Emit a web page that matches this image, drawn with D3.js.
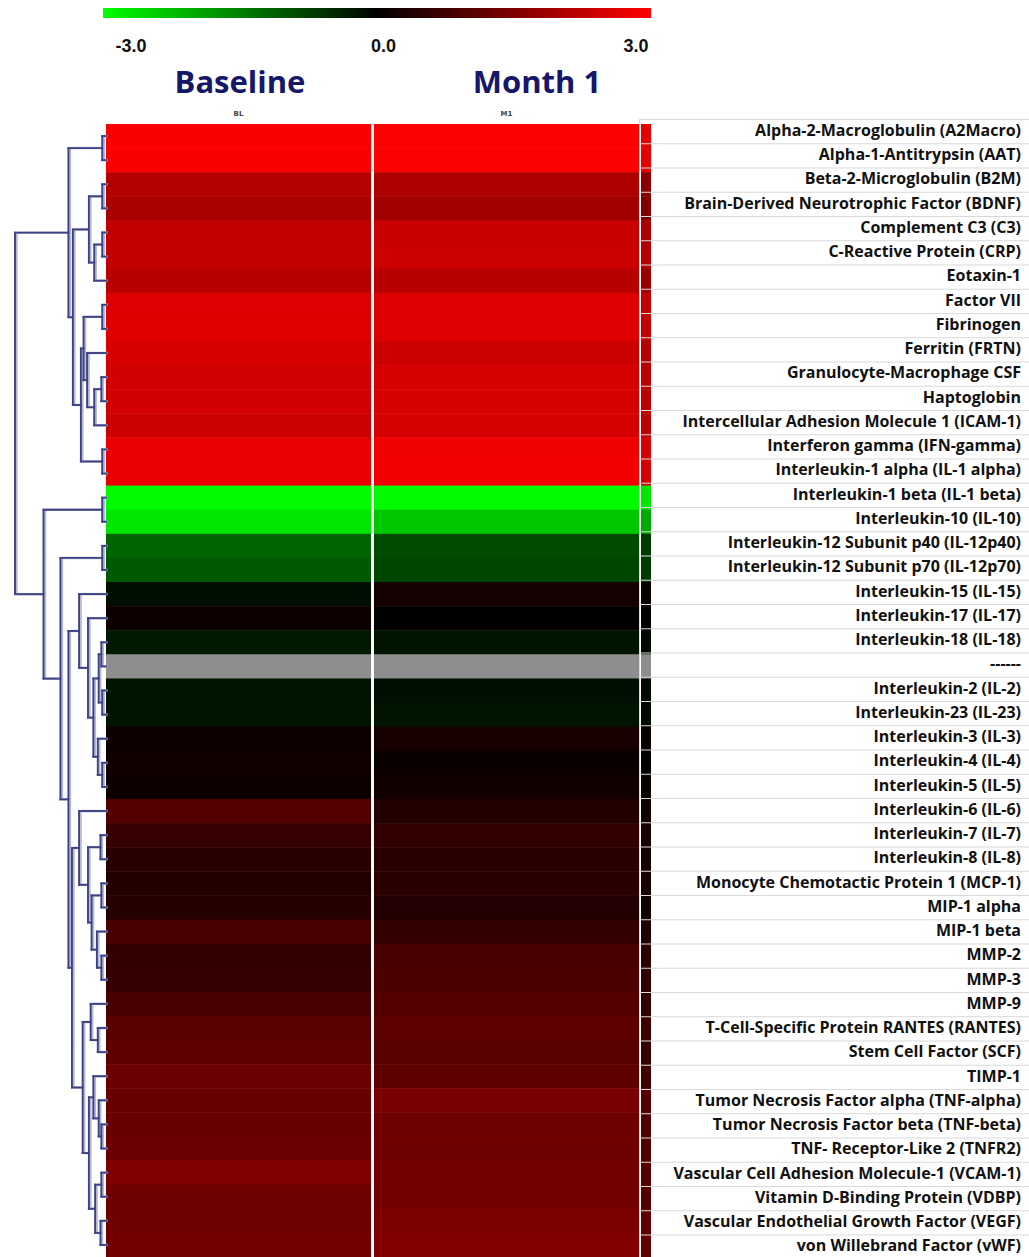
<!DOCTYPE html>
<html lang="en">
<head>
    <meta charset="UTF-8">
    <script src="https://d3js.org/d3.v7.min.js"></script>
    <title>Cytokine heatmap</title>
    <style>
        body { margin: 0; background: #fff; }
        svg { display: block; }
        .lbl { font-family: "Open Sans", Arial, sans-serif; font-weight: 700; fill: #111; }
    </style>
</head>
<body>
<div id="container"></div>
<script>
    /*------------------- data --------------------*/
    const labels = [
        "Alpha-2-Macroglobulin (A2Macro)", "Alpha-1-Antitrypsin (AAT)", "Beta-2-Microglobulin (B2M)",
        "Brain-Derived Neurotrophic Factor (BDNF)", "Complement C3 (C3)", "C-Reactive Protein (CRP)",
        "Eotaxin-1", "Factor VII", "Fibrinogen", "Ferritin (FRTN)", "Granulocyte-Macrophage  CSF",
        "Haptoglobin", "Intercellular Adhesion Molecule 1 (ICAM-1)", "Interferon gamma (IFN-gamma)",
        "Interleukin-1 alpha (IL-1 alpha)", "Interleukin-1 beta (IL-1 beta)", "Interleukin-10 (IL-10)",
        "Interleukin-12 Subunit p40 (IL-12p40)", "Interleukin-12 Subunit p70 (IL-12p70)",
        "Interleukin-15 (IL-15)", "Interleukin-17 (IL-17)", "Interleukin-18 (IL-18)", "------",
        "Interleukin-2 (IL-2)", "Interleukin-23 (IL-23)", "Interleukin-3 (IL-3)", "Interleukin-4 (IL-4)",
        "Interleukin-5 (IL-5)", "Interleukin-6 (IL-6)", "Interleukin-7 (IL-7)", "Interleukin-8 (IL-8)",
        "Monocyte Chemotactic Protein 1 (MCP-1)", "MIP-1 alpha", "MIP-1 beta", "MMP-2", "MMP-3", "MMP-9",
        "T-Cell-Specific Protein RANTES (RANTES)", "Stem Cell Factor (SCF)", "TIMP-1",
        "Tumor Necrosis Factor alpha (TNF-alpha)", "Tumor Necrosis Factor beta (TNF-beta)",
        "TNF- Receptor-Like 2 (TNFR2)", "Vascular Cell Adhesion Molecule-1 (VCAM-1)",
        "Vitamin D-Binding Protein (VDBP)", "Vascular Endothelial Growth Factor (VEGF)",
        "von Willebrand Factor (vWF)"
    ];
    const columns = ["Baseline", "Month 1"];
    const columnIds = ["BL", "M1"];

    // log-ratio values (null = no data, grey row)
    const baseline = [2.94, 2.94, 2.12, 2.00, 2.29, 2.29, 2.18, 2.59, 2.65, 2.56, 2.47, 2.47, 2.41, 2.76, 2.76,
        -2.94, -2.71, -1.18, -1.06, -0.18, 0.18, -0.29, null, -0.24, -0.24, 0.18, 0.21, 0.18, 1.00, 0.65, 0.47,
        0.41, 0.45, 0.85, 0.59, 0.61, 0.88, 1.04, 1.08, 1.27, 1.24, 1.24, 1.27, 1.51, 1.29, 1.32, 1.35];
    const month1 = [2.98, 2.98, 2.06, 1.88, 2.35, 2.41, 2.18, 2.59, 2.61, 2.41, 2.53, 2.53, 2.53, 2.82, 2.88,
        -2.94, -2.35, -0.88, -0.82, 0.24, 0.03, -0.24, null, -0.18, -0.24, 0.29, 0.12, 0.21, 0.41, 0.59, 0.49,
        0.53, 0.38, 0.59, 0.88, 0.92, 1.00, 1.08, 1.04, 1.12, 1.41, 1.32, 1.32, 1.35, 1.35, 1.47, 1.53];
    // narrow clipped column at the right edge of the heatmap
    const edgeColumn = [2.7, 2.7, 1.6, 1.5, 2.0, 2.1, 1.8, 2.3, 2.3, 2.1, 2.2, 2.2, 2.2, 2.5, 2.5,
        -2.7, -2.0, -0.7, -0.7, 0.1, 0.0, -0.1, null, -0.1, -0.1, 0.1, 0.05, 0.1, 0.2, 0.3, 0.25,
        0.3, 0.2, 0.35, 0.5, 0.55, 0.6, 0.7, 0.65, 0.75, 1.0, 0.95, 0.95, 1.0, 1.0, 1.1, 1.15];

    const legendTicks = [-3, 0, 3];

    // row dendrogram: [height, left, right], leaves are row numbers (1-based)
    const tree = [1.0,
        [0.40, [0.02, 1, 2],
            [0.35,
                [0.17, [0.02, 3, 4], [0.11, [0.02, 5, 6], 7]],
                [0.26,
                    [0.23, [0.02, 8, 9], [0.19, 10, [0.11, [0.03, 11, 12], 13]]],
                    [0.02, 14, 15]]]],
        [0.68, [0.02, 16, 17],
            [0.49, [0.02, 18, 19],
                [0.40,
                    [0.28, 20, [0.18, 21, [0.12, [0.06, [0.03, 22, 23], [0.02, 24, 25]], [0.07, 26, [0.02, 27, 28]]]]],
                    [0.36,
                        [0.28, 29, [0.18, [0.04, 30, 31], [0.14, [0.03, 32, 33], [0.08, 34, [0.03, 35, 36]]]]],
                        [0.24,
                            [0.15, 37, [0.07, 38, 39]],
                            [0.17, [0.12, 40, [0.06, 41, [0.03, 42, 43]]], [0.10, [0.03, 44, 45], [0.04, 46, 47]]]]]]]]];

    /*------------------- layout --------------------*/
    const W = 1029, H = 1257;
    const heat = { left: 106, right: 639, top: 124, bottom: 1257 };
    const strip = { left: 641, right: 651 };
    const table = { left: 640, top: 119, row: 24.25, textRight: 1021 };
    const titleX = [240, 537];

    const svg = d3.select("#container").append("svg")
        .attr("width", W)
        .attr("height", H);

    const color = d3.scaleLinear().domain([-3, 0, 3]).range(["#00ff00", "#000000", "#ff0000"]);
    const missingColor = "#8e8e8e";
    const fill = v => v === null ? missingColor : color(v);

    const xCol = d3.scaleBand().domain(columns).range([heat.left, heat.right]).paddingInner(0.011);
    const yHeat = d3.scaleBand().domain(labels).range([heat.top, heat.bottom]);
    const yLab = d3.scaleBand().domain(labels).range([table.top, table.top + labels.length * table.row]);

    /*------------------- colour legend --------------------*/
    const legendX = d3.scaleLinear().domain([-3, 3]).range([103, 651]);
    const grad = svg.append("defs").append("linearGradient").attr("id", "grad");
    grad.selectAll("stop")
        .data(d3.range(-3, 3.01, 0.5))
        .enter().append("stop")
        .attr("offset", d => (legendX(d) - 103) / 548)
        .attr("stop-color", d => color(d));
    svg.append("rect")
        .attr("x", legendX(-3)).attr("y", 8)
        .attr("width", legendX(3) - legendX(-3)).attr("height", 10)
        .attr("fill", "url(#grad)");

    const tickX = d3.scaleLinear().domain([-3, 3]).range([131, 636]);
    svg.selectAll(".tick")
        .data(legendTicks)
        .enter().append("text")
        .attr("x", d => tickX(d))
        .attr("y", 52)
        .attr("text-anchor", "middle")
        .style("font-family", "Arial, 'Liberation Sans', sans-serif")
        .style("font-weight", 700)
        .style("font-size", "18px")
        .attr("fill", "#111")
        .text(d => d.toFixed(1));

    /*------------------- column headers --------------------*/
    svg.selectAll(".title")
        .data(columns)
        .enter().append("text")
        .attr("x", (d, i) => titleX[i])
        .attr("y", 93)
        .attr("text-anchor", "middle")
        .style("font-family", "'Open Sans', sans-serif")
        .style("font-weight", 700)
        .style("font-size", "31px")
        .attr("fill", "#17176a")
        .text(d => d);

    svg.selectAll(".colid")
        .data(columns)
        .enter().append("text")
        .attr("x", d => xCol(d) + xCol.bandwidth() / 2)
        .attr("y", 116)
        .attr("text-anchor", "middle")
        .style("font-family", "'DejaVu Sans', sans-serif")
        .style("font-weight", 700)
        .style("font-size", "7px")
        .attr("fill", "#444")
        .text((d, i) => columnIds[i]);

    /*------------------- heatmap cells --------------------*/
    const series = [baseline, month1];
    columns.forEach((c, ci) => {
        svg.append("g").selectAll("rect")
            .data(series[ci])
            .enter().append("rect")
            .attr("x", xCol(c))
            .attr("y", (d, i) => yHeat(labels[i]))
            .attr("width", xCol.bandwidth())
            .attr("height", yHeat.bandwidth() + 0.5)
            .attr("fill", d => fill(d));
    });
    svg.append("g").selectAll("rect")
        .data(edgeColumn)
        .enter().append("rect")
        .attr("x", strip.left)
        .attr("y", (d, i) => yHeat(labels[i]))
        .attr("width", strip.right - strip.left)
        .attr("height", yHeat.bandwidth() + 0.5)
        .attr("fill", d => fill(d));

    /*------------------- label table --------------------*/
    svg.append("g").selectAll("line")
        .data(d3.range(labels.length + 1))
        .enter().append("line")
        .attr("x1", table.left).attr("x2", W)
        .attr("y1", i => table.top + i * table.row + 0.5)
        .attr("y2", i => table.top + i * table.row + 0.5)
        .attr("stroke", "#d9d9d9")
        .attr("stroke-width", 1);
    svg.append("line")
        .attr("x1", table.left - 0.5).attr("x2", table.left - 0.5)
        .attr("y1", table.top).attr("y2", H)
        .attr("stroke", "#d9d9d9");

    svg.append("g").selectAll("text")
        .data(labels)
        .enter().append("text")
        .attr("class", "lbl")
        .attr("x", table.textRight)
        .attr("y", d => yLab(d) + yLab.bandwidth() / 2)
        .attr("dy", "0.3em")
        .attr("text-anchor", "end")
        .style("font-size", "16px")
        .text(d => d);

    /*------------------- dendrogram --------------------*/
    const xDend = d3.scaleLinear().domain([0, 1]).range([104, 15]);
    const segs = [];
    function place(node) {
        if (typeof node === "number") {
            const lab = labels[node - 1];
            return { x: heat.left, y: yHeat(lab) + yHeat.bandwidth() / 2 };
        }
        const a = place(node[1]), b = place(node[2]);
        const x = xDend(node[0]);
        segs.push([x, a.y, x, b.y]);
        segs.push([x, a.y, a.x, a.y]);
        segs.push([x, b.y, b.x, b.y]);
        return { x: x, y: (a.y + b.y) / 2 };
    }
    place(tree);

    const dend = svg.append("g");
    dend.selectAll(".shade")
        .data(segs)
        .enter().append("line")
        .attr("x1", d => d[0] + 1.5).attr("y1", d => d[1])
        .attr("x2", d => d[2] + 1.5).attr("y2", d => d[3])
        .attr("stroke", "#b7b9d8")
        .attr("stroke-width", 2.5);
    dend.selectAll(".branch")
        .data(segs)
        .enter().append("line")
        .attr("x1", d => d[0]).attr("y1", d => d[1])
        .attr("x2", d => d[2]).attr("y2", d => d[3])
        .attr("stroke", "#3d4283")
        .attr("stroke-width", 1.9)
        .attr("stroke-linecap", "square");
</script>
</body>
</html>
